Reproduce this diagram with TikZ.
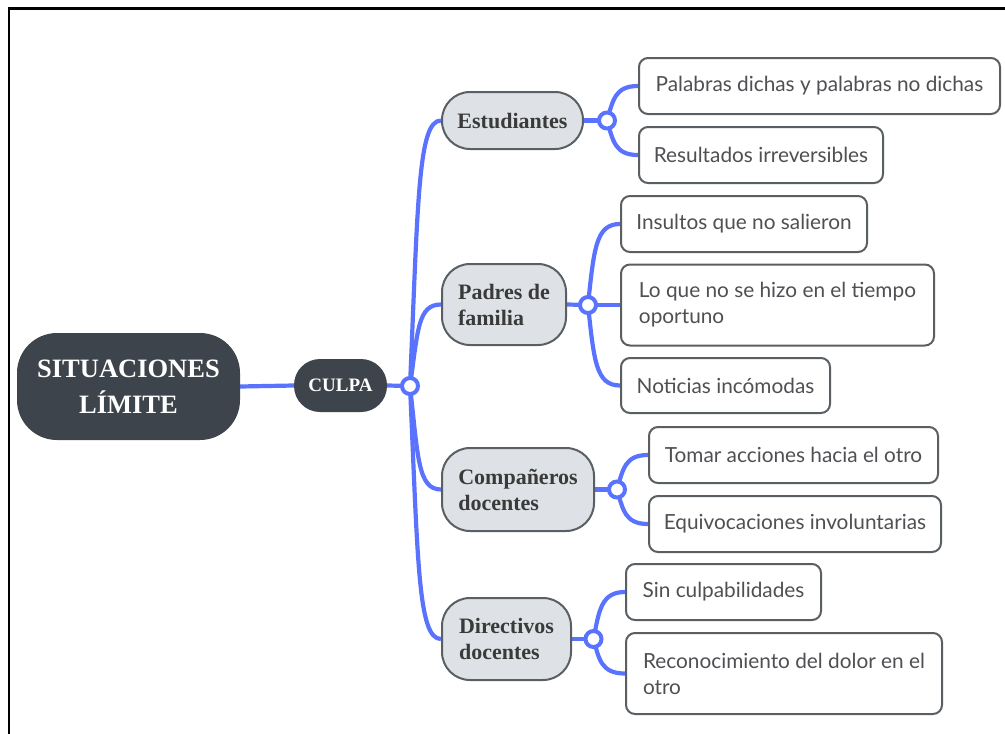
\documentclass[tikz,border=0pt]{standalone}
\usepackage{fontspec}
\setmainfont{Lato}
\newfontfamily\headfont{Liberation Serif}
\usetikzlibrary{backgrounds}
\definecolor{rootgrey}{HTML}{3D444B}
\definecolor{topicfill}{HTML}{DEE1E5}
\definecolor{edgegrey}{HTML}{5A5F63}
\definecolor{leaftext}{HTML}{505054}
\definecolor{topictext}{HTML}{3A3A3A}
\definecolor{linkblue}{HTML}{5A73FF}
\tikzset{
  rootbox/.style={fill=rootgrey, text=white, rounded corners=40, align=center, inner sep=0,
    font=\headfont\bfseries\fontsize{26.5}{36}\selectfont},
  topicbox/.style={fill=topicfill, draw=edgegrey, line width=2, rounded corners=28, align=left,
    inner sep=0, text=topictext, font=\headfont\bfseries\fontsize{22}{26}\selectfont},
  leafbox/.style={fill=white, draw=edgegrey, line width=2, rounded corners=9, align=left,
    inner sep=0, anchor=west, text=leaftext, font=\fontsize{20.8}{26}\selectfont},
  hubdot/.style={circle, draw=linkblue, line width=4, fill=white, minimum size=16, inner sep=0},
  branch/.style={draw=linkblue, line width=4.2}
}
\begin{document}
\begin{tikzpicture}[x=1pt, y=-1pt]
  \useasboundingbox (0,0) rectangle (1005,734);
  \draw[line width=2.5] (9,734) -- (9,8.5) -- (1005,8.5);
  \node[rootbox, minimum width=223, minimum height=107] (root) at (128.5,386.5) {SITUACIONES\\LÍMITE};
  \node[rootbox, rounded corners=26, minimum width=93, minimum height=53, font=\headfont\bfseries\fontsize{19}{22}\selectfont] (culpa) at (340.5,385.5) {CULPA};
  \node[hubdot] (hub) at (410,386) {};
  \node[topicbox, minimum width=141, minimum height=57] (est) at (512.5,120.5) {Estudiantes};
  \node[topicbox, minimum width=124, minimum height=81] (pad) at (504,304.5) {Padres de\\familia};
  \node[topicbox, minimum width=152, minimum height=83] (comp) at (518,489.5) {Compañeros\\docentes};
  \node[topicbox, minimum width=129, minimum height=82] (dir) at (506.5,639) {Directivos\\docentes};
  \node[hubdot] (hest) at (607,120.5) {};
  \node[hubdot] (hpad) at (588,305) {};
  \node[hubdot] (hcomp) at (617,489.5) {};
  \node[hubdot] (hdir) at (593.5,639) {};
  \node[leafbox, minimum width=361, minimum height=56] (l1) at (638,86) {Palabras dichas y palabras no dichas};
  \node[leafbox, minimum width=244, minimum height=56] (l2) at (638,155) {Resultados irreversibles};
  \node[leafbox, minimum width=246, minimum height=56] (l3) at (620,224) {Insultos que no salieron};
  \node[leafbox, minimum width=313, minimum height=81] (l4) at (620,305) {Lo que no se hizo en el tiempo\\oportuno};
  \node[leafbox, minimum width=209, minimum height=55] (l5) at (620,385.5) {Noticias incómodas};
  \node[leafbox, minimum width=289, minimum height=56] (l6) at (648,455) {Tomar acciones hacia el otro};
  \node[leafbox, minimum width=292, minimum height=56] (l7) at (648,524) {Equivocaciones involuntarias};
  \node[leafbox, minimum width=195, minimum height=56] (l8) at (625,592) {Sin culpabilidades};
  \node[leafbox, minimum width=316, minimum height=81] (l9) at (625,673.5) {Reconocimiento del dolor en el\\otro};
  \begin{scope}[on background layer]
    \draw[branch] (root.east) -- (culpa.west);
    \draw[branch] (culpa.east) -- (hub.center);
    \draw[branch] (hub.center) .. controls (418,200) and (418,120.5) .. (est.west);
    \draw[branch] (hub.center) .. controls (418,329) and (418,304.5) .. (pad.west);
    \draw[branch] (hub.center) .. controls (418,458) and (418,489.5) .. (comp.west);
    \draw[branch] (hub.center) .. controls (418,563) and (418,639) .. (dir.west);
    \draw[branch] (est.east) -- (hest.center);
    \draw[branch] (pad.east) -- (hpad.center);
    \draw[branch] (comp.east) -- (hcomp.center);
    \draw[branch] (dir.east) -- (hdir.center);
    \draw[branch] (hest.center) .. controls (613,100) and (615,86) .. (l1.west);
    \draw[branch] (hest.center) .. controls (613,141) and (615,155) .. (l2.west);
    \draw[branch] (hpad.center) .. controls (594,248) and (596,224) .. (l3.west);
    \draw[branch] (hpad.center) -- (l4.west);
    \draw[branch] (hpad.center) .. controls (594,361) and (596,385.5) .. (l5.west);
    \draw[branch] (hcomp.center) .. controls (623,469) and (625,455) .. (l6.west);
    \draw[branch] (hcomp.center) .. controls (623,510) and (625,524) .. (l7.west);
    \draw[branch] (hdir.center) .. controls (599,611) and (601,592) .. (l8.west);
    \draw[branch] (hdir.center) .. controls (599,659) and (601,673.5) .. (l9.west);
  \end{scope}
\end{tikzpicture}
\end{document}
